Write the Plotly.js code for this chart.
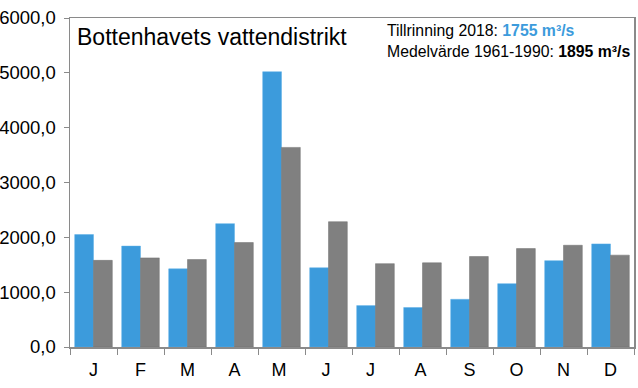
<!DOCTYPE html>
<html>
<head>
<meta charset="utf-8">
<script src="https://cdn.plot.ly/plotly-3.0.1.min.js"></script>
<style>html,body{margin:0;padding:0;background:#fff;}#chart{width:638px;height:388px;}</style>
</head>
<body>
<div id="chart"></div>
<script>
const months = ["J","F","M","A","M ","J ","J  ","A ","S","O","N","D"];
const tillrinning2018 = [2050, 1840, 1425, 2250, 5020, 1445, 755, 720, 870, 1155, 1575, 1880];
const medelvarde = [1580, 1625, 1595, 1905, 3640, 2285, 1520, 1535, 1650, 1795, 1855, 1675];
const titleText = "Bottenhavets vattendistrikt";
const infoLine1 = "Tillrinning 2018: <span style='color:#3c9bdc'><b>1755 m³/s</b></span>";
const infoLine2 = "Medelvärde 1961-1990: <b>1895 m³/s</b>";

const font = "Liberation Sans, Arial, sans-serif";
const data = [
  {type:"bar", x: months, y: tillrinning2018, name:"2018",
   marker:{color:"#3c9bdc", line:{color:"#5aaee6", width:0.5}}},
  {type:"bar", x: months, y: medelvarde, name:"1961-1990",
   marker:{color:"#808080", line:{color:"#6e6e6e", width:0.5}}}
];
const layout = {
  width:638, height:388,
  margin:{l:70, r:4, t:18, b:41},
  paper_bgcolor:"#fff", plot_bgcolor:"#fff",
  showlegend:false,
  barmode:"group", bargap:0.2, bargroupgap:0,
  separators:",.",
  font:{family:font, color:"#000", size:17},
  xaxis:{type:"category", showgrid:false, zeroline:false,
    showline:true, linecolor:"#8a8a8a", linewidth:1.5, mirror:true,
    ticks:"outside", tickson:"boundaries", ticklen:6, tickcolor:"#8a8a8a", tickwidth:1,
    ticklabelstandoff:6,
    tickfont:{size:18, family:font}, fixedrange:true},
  yaxis:{range:[0,6000], dtick:1000, tickformat:".1f", showgrid:false, zeroline:false,
    showline:true, linecolor:"#8a8a8a", linewidth:1.5, mirror:true,
    ticks:"outside", ticklen:5, tickcolor:"#8a8a8a", tickwidth:1,
    ticklabelstandoff:4,
    tickfont:{size:18.5, family:font}, fixedrange:true},
  annotations:[
    {xref:"paper", yref:"paper", x:0.008, y:0.942, xanchor:"left", yanchor:"middle",
     text:titleText, showarrow:false, font:{size:23, family:font, color:"#000"}},
    {xref:"paper", yref:"paper", x:0.997, y:0.93, xanchor:"right", yanchor:"middle", align:"left",
     text: infoLine1 + "<br>" + infoLine2, showarrow:false, font:{size:15.8, family:font, color:"#000"}}
  ]
};
Plotly.newPlot("chart", data, layout, {displayModeBar:false, staticPlot:true});
</script>
</body>
</html>
